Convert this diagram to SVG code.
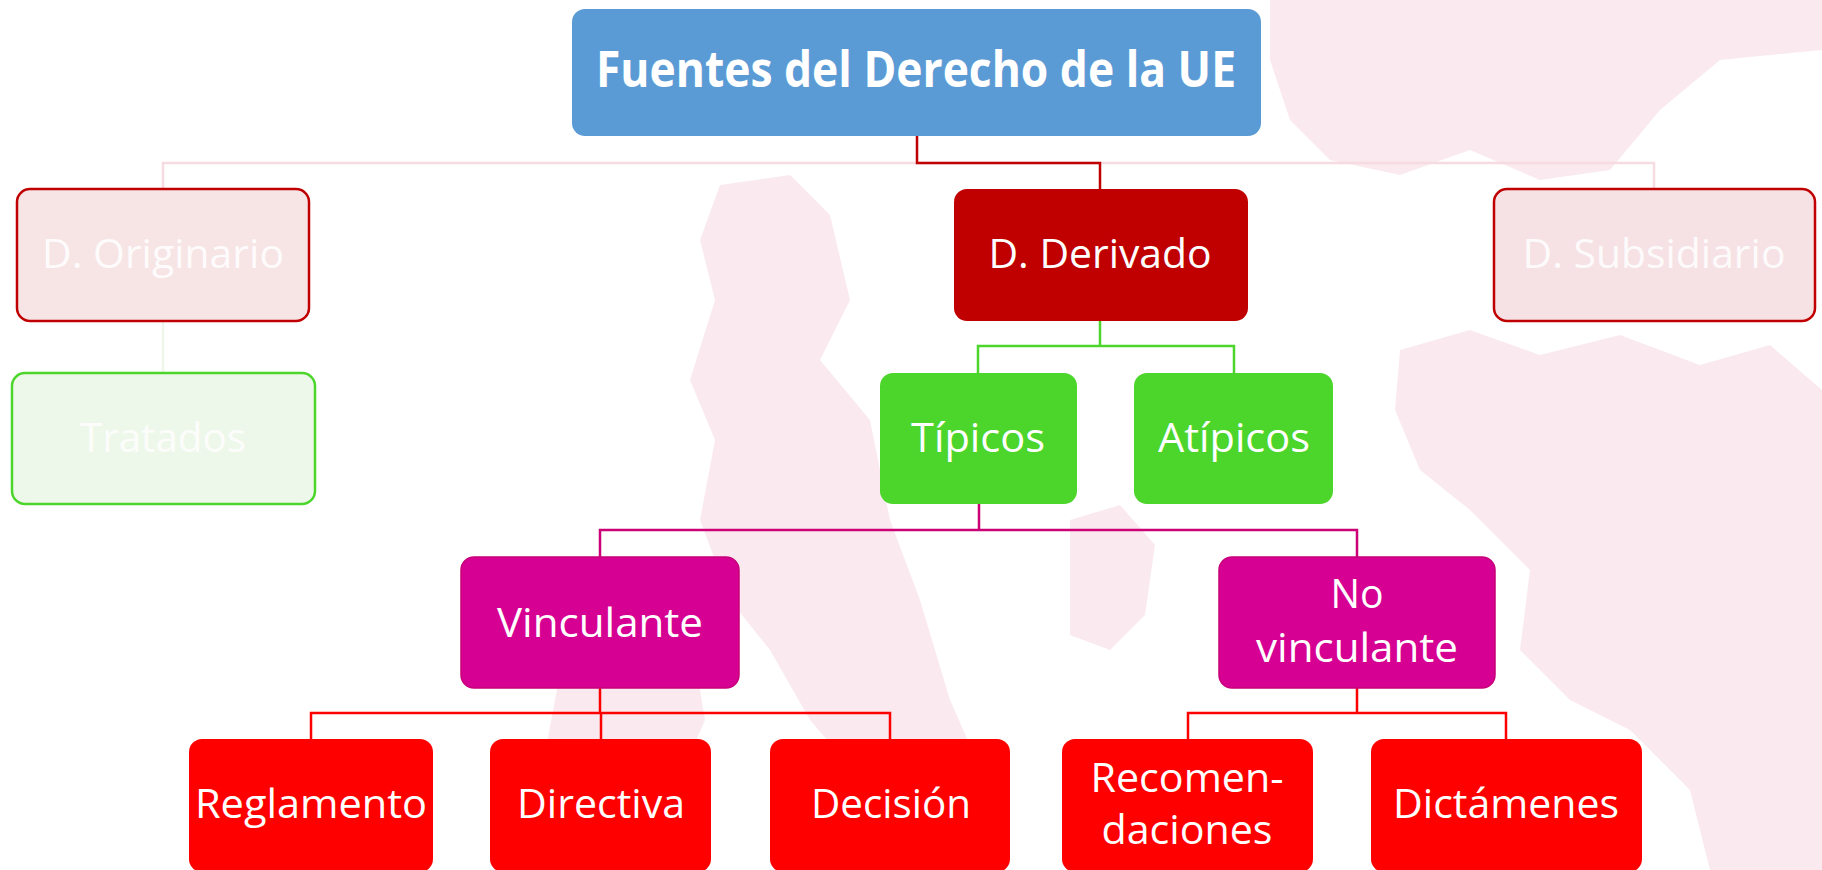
<svg xmlns="http://www.w3.org/2000/svg" width="1822" height="870" viewBox="0 0 1822 870">
<style>
  text { font-family: "Open Sans", "Noto Sans", "Liberation Sans", sans-serif; fill: #FFFFFF; text-anchor: middle; font-size: 40px; }
  .title { font-weight: bold; font-size: 50px; }
  .faded { fill: #FFFFFF; opacity: 0.85; }
  .wm { fill: #FAEAEF; }
  .conn { fill: none; stroke-width: 2.5; }
</style>
<rect width="1822" height="870" fill="#FFFFFF"/>
<g id="watermark">
  <path class="wm" d="M1270 0 L1822 0 L1822 50 L1720 60 L1660 110 L1610 170 L1540 180 L1470 150 L1400 175 L1330 160 L1290 120 L1270 60 Z"/>
  <path class="wm" d="M720 185 L790 175 L830 215 L850 300 L820 360 L870 420 L890 520 L920 600 L950 700 L990 790 L1000 870 L890 870 L870 790 L810 720 L770 650 L730 600 L700 520 L715 440 L690 380 L715 300 L700 240 Z"/>
  <path class="wm" d="M570 620 L640 580 L690 630 L705 720 L670 800 L620 870 L555 870 L540 780 L555 700 Z"/>
  <path class="wm" d="M1070 520 L1120 505 L1155 545 L1145 615 L1110 650 L1070 635 Z"/>
  <path class="wm" d="M1400 350 L1470 330 L1540 355 L1620 335 L1700 365 L1770 345 L1822 390 L1822 870 L1710 870 L1690 790 L1630 730 L1570 700 L1520 650 L1530 570 L1470 510 L1420 470 L1395 410 Z"/>
</g>
<g id="connectors">
  <path class="conn" stroke="#F6DCE1" d="M163 189 V163 H1654 V189"/>
  <path class="conn" stroke="#EEF7EA" d="M163 321 V373"/>
  <path class="conn" stroke="#C00000" d="M917 136 V163 H1100 V189"/>
  <path class="conn" stroke="#4CD52B" d="M1100 321 V346 M978 373 V346 H1234 V373"/>
  <path class="conn" stroke="#CC0077" d="M979 504 V530 M600 557 V530 H1357 V557"/>
  <path class="conn" stroke="#FF0000" d="M600 688 V713 M311 739 V713 H890 V739 M601 713 V739"/>
  <path class="conn" stroke="#FF0000" d="M1357 688 V713 M1188 739 V713 H1506 V739"/>
</g>
<g id="node-fuentes">
  <rect x="572" y="9" width="689" height="127" rx="13" fill="#5B9BD5"/>
  <text class="title" x="916" y="87" textLength="640" lengthAdjust="spacingAndGlyphs">Fuentes del Derecho de la UE</text>
</g>
<g id="node-originario">
  <rect x="17" y="189" width="292" height="132" rx="13" fill="#F7E5E6" stroke="#C00000" stroke-width="2.5"/>
  <text class="faded" x="163" y="268" textLength="242" lengthAdjust="spacingAndGlyphs">D. Originario</text>
</g>
<g id="node-derivado">
  <rect x="954" y="189" width="294" height="132" rx="13" fill="#C00000"/>
  <text x="1100" y="268" textLength="223" lengthAdjust="spacingAndGlyphs">D. Derivado</text>
</g>
<g id="node-subsidiario">
  <rect x="1494" y="189" width="321" height="132" rx="13" fill="#F6E2E5" stroke="#C00000" stroke-width="2.5"/>
  <text class="faded" x="1654" y="268" textLength="263" lengthAdjust="spacingAndGlyphs">D. Subsidiario</text>
</g>
<g id="node-tratados">
  <rect x="12" y="373" width="303" height="131" rx="13" fill="#EEF8EA" stroke="#4CD52B" stroke-width="2.5"/>
  <text class="faded" x="163" y="452" textLength="166" lengthAdjust="spacingAndGlyphs">Tratados</text>
</g>
<g id="node-tipicos">
  <rect x="880" y="373" width="197" height="131" rx="13" fill="#4CD52B"/>
  <text x="978" y="452" textLength="134" lengthAdjust="spacingAndGlyphs">Típicos</text>
</g>
<g id="node-atipicos">
  <rect x="1134" y="373" width="199" height="131" rx="13" fill="#4CD52B"/>
  <text x="1234" y="452" textLength="152" lengthAdjust="spacingAndGlyphs">Atípicos</text>
</g>
<g id="node-vinculante">
  <rect x="461" y="557" width="278" height="131" rx="13" fill="#D60093" stroke="#C8007A" stroke-width="1.5"/>
  <text x="600" y="637" textLength="206" lengthAdjust="spacingAndGlyphs">Vinculante</text>
</g>
<g id="node-novinculante">
  <rect x="1219" y="557" width="276" height="131" rx="13" fill="#D60093" stroke="#C8007A" stroke-width="1.5"/>
  <text x="1357" y="608" textLength="53" lengthAdjust="spacingAndGlyphs">No</text>
  <text x="1357" y="662" textLength="202" lengthAdjust="spacingAndGlyphs">vinculante</text>
</g>
<g id="node-reglamento">
  <rect x="189" y="739" width="244" height="133" rx="13" fill="#FF0000"/>
  <text x="311" y="818" textLength="232" lengthAdjust="spacingAndGlyphs">Reglamento</text>
</g>
<g id="node-directiva">
  <rect x="490" y="739" width="221" height="133" rx="13" fill="#FF0000"/>
  <text x="601" y="818" textLength="168" lengthAdjust="spacingAndGlyphs">Directiva</text>
</g>
<g id="node-decision">
  <rect x="770" y="739" width="240" height="133" rx="13" fill="#FF0000"/>
  <text x="891" y="818" textLength="160" lengthAdjust="spacingAndGlyphs">Decisión</text>
</g>
<g id="node-recomendaciones">
  <rect x="1062" y="739" width="251" height="133" rx="13" fill="#FF0000"/>
  <text x="1187" y="792" textLength="193" lengthAdjust="spacingAndGlyphs">Recomen-</text>
  <text x="1187" y="844" textLength="171" lengthAdjust="spacingAndGlyphs">daciones</text>
</g>
<g id="node-dictamenes">
  <rect x="1371" y="739" width="271" height="133" rx="13" fill="#FF0000"/>
  <text x="1506" y="818" textLength="226" lengthAdjust="spacingAndGlyphs">Dictámenes</text>
</g>
</svg>
